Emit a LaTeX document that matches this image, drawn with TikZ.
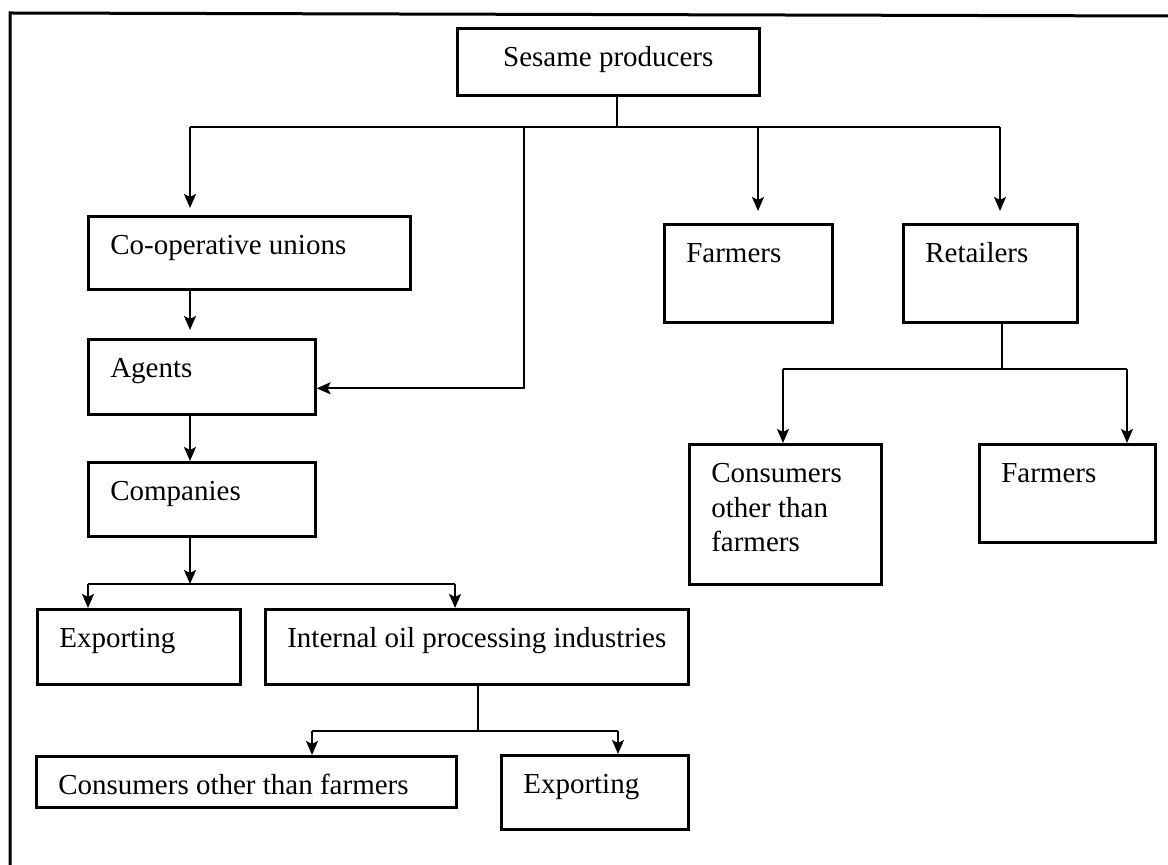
\documentclass[tikz,border=0pt]{standalone}
\usepackage{fontspec}
\setmainfont{Liberation Serif}
\usetikzlibrary{arrows.meta}
\newcommand{\cell}[4][\raggedright]{\parbox[c][#3][t]{#2}{#1\rule{0pt}{19pt}#4}}

\begin{document}
\begin{tikzpicture}[x=0.5pt, y=-0.5pt,
    block/.style={draw, line width=1.3pt, anchor=north west, inner xsep=11pt, inner ysep=0pt,
      font=\fontsize{14.5}{17.4}\selectfont},
    link/.style={line width=1pt},
    arr/.style={line width=1pt, -{Stealth[length=7pt, width=6pt, inset=1.5pt]}}]
    \useasboundingbox (0,0) rectangle (1168,865);
    \draw[line width=1.5pt] (10,865) -- (10,13) -- (1168,16);

    \node[block] (prod) at (456,27) {\cell[\centering]{129pt}{33.5pt}{Sesame producers}};
    \node[block] (coop) at (87,215) {\cell{139pt}{36.5pt}{Co-operative unions}};
    \node[block] (agents) at (87,338) {\cell{91.5pt}{37.5pt}{Agents}};
    \node[block] (comp) at (87,461) {\cell{91.5pt}{37pt}{Companies}};
    \node[block] (exp1) at (36,608) {\cell{79.5pt}{37.5pt}{Exporting}};
    \node[block] (oil) at (264,608) {\cell{189.5pt}{37.5pt}{Internal oil processing industries}};
    \node[block] (cons2) at (35,755) {\cell{188pt}{25.5pt}{Consumers other than farmers}};
    \node[block] (exp2) at (500,754) {\cell{71.5pt}{37pt}{Exporting}};
    \node[block] (farm1) at (663,223) {\cell{62pt}{49pt}{Farmers}};
    \node[block] (ret) at (902,223) {\cell{65pt}{49pt}{Retailers}};
    \node[block] (cons1) at (688,443) {\cell{74pt}{70pt}{Consumers\\other than\\farmers}};
    \node[block] (farm2) at (978,443) {\cell{66pt}{49pt}{Farmers}};

    % top level split
    \coordinate (hub) at (617,127);
    \coordinate (tl) at (190,127);
    \coordinate (ta) at (524,127);
    \coordinate (tf) at (758,127);
    \coordinate (tr) at (1000,127);
    \draw[link] (prod.south -| hub) -- (hub);
    \draw[link] (tl) -- (tr);
    \draw[arr, shorten >=3.5pt] (tl) -- (tl |- coop.north);
    \draw[arr] (ta) |- ([yshift=-5.75pt]agents.east);
    \draw[arr, shorten >=6pt] (tf) -- (tf |- farm1.north);
    \draw[arr, shorten >=6pt] (tr) -- (tr |- ret.north);

    \draw[arr, shorten >=4pt] (coop.south -| tl) -- (agents.north -| tl);
    \draw[arr] (agents.south -| tl) -- (comp.north -| tl);

    % retailers
    \coordinate (rs) at (1002,369);
    \coordinate (rl) at (783,369);
    \coordinate (rr) at (1127,369);
    \draw[link] (ret.south -| rs) -- (rs);
    \draw[link] (rl) -- (rr);
    \draw[arr] (rl) -- (rl |- cons1.north);
    \draw[arr] (rr) -- (rr |- farm2.north);

    % companies
    \coordinate (cs) at (190,584);
    \coordinate (cl) at (88,584);
    \coordinate (cr) at (455,584);
    \draw[arr] (comp.south -| cs) -- (cs);
    \draw[link] (cl) -- (cr);
    \draw[arr] (cl) -- (cl |- exp1.north);
    \draw[arr] (cr) -- (cr |- oil.north);

    % oil industries
    \coordinate (os) at (478,731);
    \coordinate (ol) at (312,731);
    \coordinate (orr) at (618,731);
    \draw[link] (oil.south -| os) -- (os);
    \draw[link] (ol) -- (orr);
    \draw[arr] (ol) -- (ol |- cons2.north);
    \draw[arr] (orr) -- (orr |- exp2.north);
\end{tikzpicture}
\end{document}
